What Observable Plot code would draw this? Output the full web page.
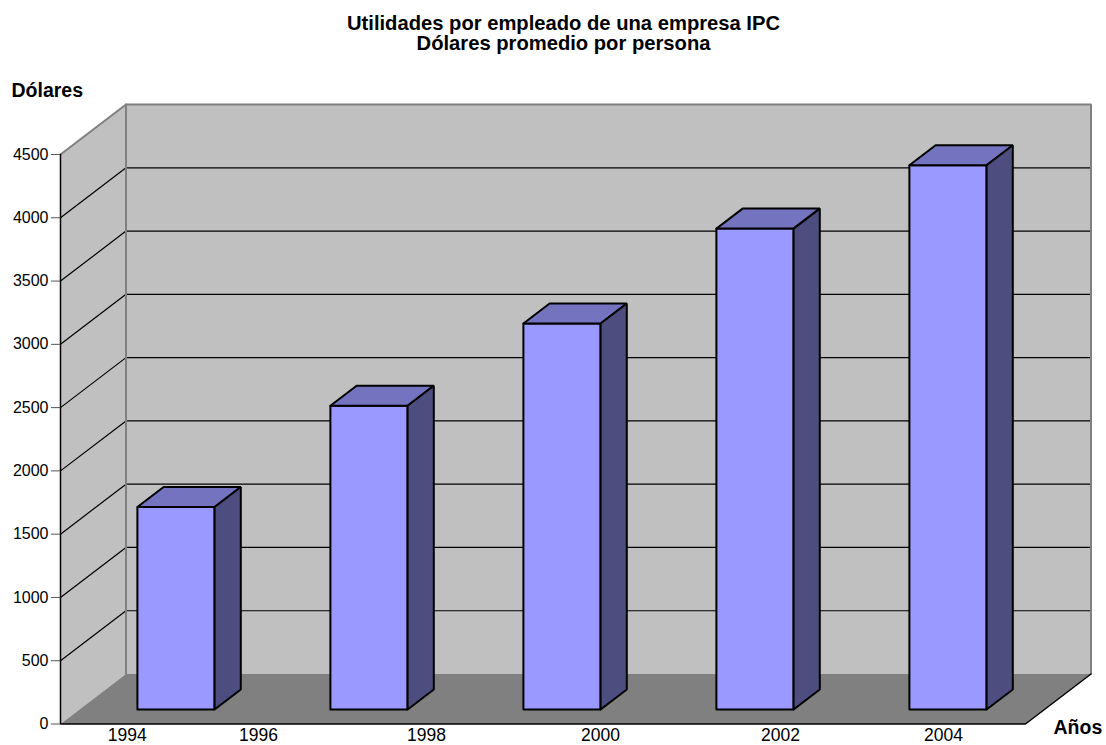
<!DOCTYPE html>
<html>
<head>
<meta charset="utf-8">
<script src="https://cdn.jsdelivr.net/npm/d3@7"></script>
<script src="https://cdn.jsdelivr.net/npm/@observablehq/plot@0.6"></script>
<style>
  html, body { margin: 0; padding: 0; background: white; }
</style>
</head>
<body>
<div id="chart"></div>
<script>
// ---- Data ----
const titleLines = ["Utilidades por empleado de una empresa IPC", "Dólares promedio por persona"];
const yLabel = "Dólares";
const xLabel = "Años";
const barValues = [1600, 2400, 3050, 3800, 4300];
const yTicks = [0, 500, 1000, 1500, 2000, 2500, 3000, 3500, 4000, 4500];
const xTickLabels = ["1994", "1996", "1998", "2000", "2002", "2004"];
const xTickAt = [0.346, 1.026, 1.896, 2.798, 3.731, 4.575]; // category units

// ---- Oblique 3D projection (in data units) ----
const NCAT = barValues.length;
const YMAX = 4500;
const DX = 0.3394;   // depth shift in category units
const DY = 395;      // depth shift in value units
const P = (c, v, d, id) => ({x: c + d * DX, y: v + d * DY, id});
const poly = (id, pts) => pts.map(p => ({...p, id})).concat([{...pts[0], id}]);

const sideWall = poly("side", [P(0,0,0), P(0,YMAX,0), P(0,YMAX,1), P(0,0,1)]);
const backWall = poly("back", [P(0,0,1), P(0,YMAX,1), P(NCAT,YMAX,1), P(NCAT,0,1)]);
const floor = poly("floor", [P(0,0,0), P(0,0,1), P(NCAT,0,1), P(NCAT,0,0)]);

const gridVals = yTicks.filter(v => v > 0 && v < YMAX);
const gridBack = gridVals.flatMap(v => [P(0,v,1,"b"+v), P(NCAT,v,1,"b"+v)]);
const gridSide = gridVals.flatMap(v => [P(0,v,0,"s"+v), P(0,v,1,"s"+v)]);

const grayEdges = [
  P(0,YMAX,0,"e1"), P(0,YMAX,1,"e1"), P(NCAT,YMAX,1,"e1"), P(NCAT,0,1,"e1"),
  P(0,YMAX,1,"e2"), P(0,0,1,"e2")
];
const blackEdges = [
  P(0,YMAX,0,"k1"), P(0,0,0,"k1"), P(NCAT,0,0,"k1"), P(NCAT,0,1,"k1")
];

const B0 = 0.3, B1 = 0.7;   // bar extent within band
const DF = 0.29, DB = 0.69; // bar depth extent
const fronts = [], tops = [], sides = [];
barValues.forEach((v, i) => {
  const b = i + B0, e = i + B1;
  fronts.push(...poly("f"+i, [P(b,0,DF), P(e,0,DF), P(e,v,DF), P(b,v,DF)]));
  tops.push(...poly("t"+i, [P(b,v,DF), P(e,v,DF), P(e,v,DB), P(b,v,DB)]));
  sides.push(...poly("s"+i, [P(e,0,DF), P(e,0,DB), P(e,v,DB), P(e,v,DF)]));
});

const polyOpts = (fill, stroke, sw) => ({x: "x", y: "y", z: "id", fill, stroke, strokeWidth: sw, strokeLinejoin: "miter", curve: "linear"});

const chart = Plot.plot({
  width: 1106,
  height: 745,
  marginLeft: 60,
  marginRight: 81,
  marginTop: 154,
  marginBottom: 21.5,
  x: {domain: [0, NCAT], axis: null},
  y: {domain: [0, YMAX], axis: null},
  style: {fontFamily: "'Liberation Sans', Arial, sans-serif", background: "white", color: "black"},
  marks: [
    Plot.line(sideWall, polyOpts("#c0c0c0", "none", 0)),
    Plot.line(backWall, polyOpts("#c0c0c0", "none", 0)),
    Plot.line(floor, polyOpts("#808080", "none", 0)),
    Plot.line(gridBack, {x: "x", y: "y", z: "id", stroke: "black", strokeWidth: 1.2}),
    Plot.line(gridSide, {x: "x", y: "y", z: "id", stroke: "black", strokeWidth: 1.2}),
    Plot.line(grayEdges, {x: "x", y: "y", z: "id", stroke: "#808080", strokeWidth: 2, strokeLinejoin: "miter"}),
    Plot.line(blackEdges, {x: "x", y: "y", z: "id", stroke: "black", strokeWidth: 1.5, strokeLinejoin: "miter"}),
    Plot.line(fronts, polyOpts("#9999ff", "black", 2)),
    Plot.line(tops, polyOpts("#7373bf", "black", 2)),
    Plot.line(sides, polyOpts("#4d4d80", "black", 2)),
    Plot.axisY({ticks: yTicks, tickSize: 9, tickPadding: 3, fontSize: 16, tickFormat: d => String(d), label: null, stroke: "#555", fill: "black"}),
    Plot.text(xTickAt, {x: d => d, y: 0, text: (d, i) => xTickLabels[i], dy: 11, fontSize: 17.5, fill: "black", lineAnchor: "middle"}),
    Plot.text([yLabel], {frameAnchor: "top-left", dx: -49, dy: -64, textAnchor: "start", lineAnchor: "middle", fontSize: 19.5, fontWeight: "bold", fill: "black"}),
    Plot.text([xLabel], {frameAnchor: "bottom-right", dx: 28, dy: 4, textAnchor: "start", lineAnchor: "middle", fontSize: 19.5, fontWeight: "bold", fill: "black"}),
    Plot.text([titleLines[0]], {frameAnchor: "top", dx: 20.5, dy: -131, lineAnchor: "middle", fontSize: 20.2, fontWeight: "bold", fill: "black"}),
    Plot.text([titleLines[1]], {frameAnchor: "top", dx: 20.5, dy: -111, lineAnchor: "middle", fontSize: 20.2, fontWeight: "bold", fill: "black"})
  ]
});
document.getElementById("chart").appendChild(chart);
</script>
</body>
</html>
